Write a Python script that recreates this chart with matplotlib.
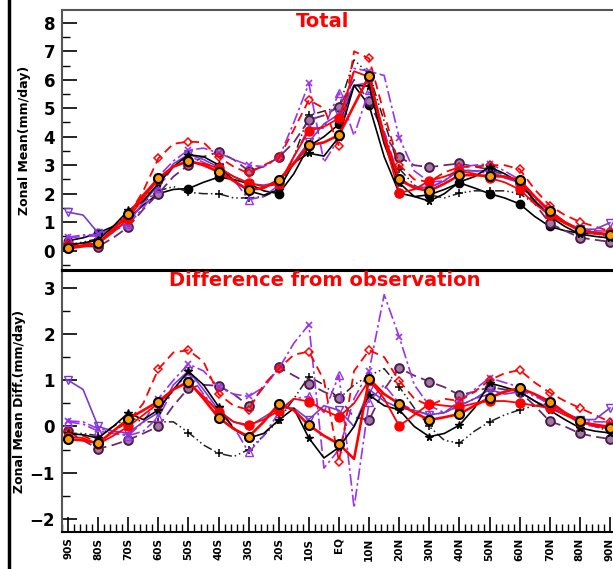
import matplotlib.pyplot as plt
import numpy as np
from matplotlib.ticker import MultipleLocator

# latitude grid (5 deg), markers drawn every 10 deg
lat = np.arange(-90, 91, 5)
tick_lat = np.arange(-90, 91, 10)
tick_lab = ['90S', '80S', '70S', '60S', '50S', '40S', '30S', '20S', '10S', 'EQ',
            '10N', '20N', '30N', '40N', '50N', '60N', '70N', '80N', '90N']

# observation (top panel only)
obs = [0.35, 0.45, 0.62, 0.85, 1.12, 1.6, 2.0, 2.15, 2.18, 2.4, 2.58, 2.5, 2.35, 2.1, 2.0, 2.7, 3.67, 4.0, 4.44,
       5.8, 5.1, 3.3, 2.02, 1.9, 1.96, 2.15, 2.38, 2.2, 2.0, 1.85, 1.64, 1.2, 0.85, 0.7, 0.61, 0.6, 0.58]

# model minus observation
d_orange = [-0.27, -0.3, -0.36, -0.1, 0.16, 0.35, 0.54, 0.8, 0.97, 0.6, 0.19, -0.05, -0.22, 0.1, 0.49, 0.35, 0.03,
            -0.2, -0.38, -0.7, 1.03, 0.7, 0.49, 0.3, 0.14, 0.2, 0.27, 0.45, 0.62, 0.75, 0.83, 0.7, 0.54, 0.3, 0.11,
            0.02, -0.03]
d_reddot = [-0.22, -0.25, -0.38, -0.2, 0.0, 0.25, 0.5, 0.8, 0.95, 0.65, 0.32, 0.1, 0.03, 0.15, 0.34, 0.6, 0.54,
            0.35, 0.21, 0.5, 1.0, 0.6, 0.01, 0.25, 0.49, 0.45, 0.42, 0.5, 0.55, 0.55, 0.51, 0.45, 0.4, 0.25, 0.1,
            0.05, 0.0]
d_star = [-0.15, -0.18, -0.25, 0.0, 0.29, 0.15, 0.36, 0.8, 1.19, 0.9, 0.43, -0.05, -0.25, -0.15, 0.14, 0.39, -0.25,
          -0.68, -0.45, 0.0, 0.68, 0.45, 0.36, 0.0, -0.22, -0.15, 0.03, 0.4, 0.94, 0.85, 0.75, 0.55, 0.35, 0.15,
          -0.03, -0.1, -0.14]
d_plus = [-0.15, -0.15, -0.2, 0.0, 0.2, 0.1, 0.1, 0.1, -0.13, -0.4, -0.58, -0.65, -0.5, -0.2, 0.14, 0.6, 1.08, 0.9,
          0.6, 0.9, 1.1, 1.25, 0.86, 0.4, 0.0, -0.3, -0.36, -0.1, 0.1, 0.25, 0.36, 0.45, 0.5, 0.3, 0.1, 0.0, -0.1]
d_vtri = [1.0, 0.8, 0.0, -0.1, -0.14, 0.1, 0.3, 0.9, 1.2, 0.8, 0.35, 0.1, 0.0, 0.2, 0.4, 0.4, 0.15, 0.45, 0.35, 0.0,
          0.8, 0.55, 0.4, 0.35, 0.25, 0.3, 0.45, 0.6, 0.8, 0.7, 0.75, 0.55, 0.4, 0.3, 0.15, 0.15, 0.4]
d_cross = [0.12, 0.1, -0.05, -0.1, -0.2, 0.1, 0.6, 1.0, 1.35, 1.2, 0.85, 0.7, 0.65, 0.85, 1.25, 1.8, 2.2, -0.9,
           -0.5, 0.6, 1.2, 2.85, 1.94, 0.9, 0.45, 0.3, 0.55, 0.8, 1.05, 0.95, 0.85, 0.7, 0.45, 0.3, 0.05, 0.0, -0.05]
d_utri = [0.1, 0.05, -0.1, -0.15, -0.2, -0.1, 0.2, 0.8, 1.15, 0.7, 0.3, 0.0, -0.56, -0.2, 0.3, 0.6, 0.65, 0.3, 1.11,
          -1.76, 0.54, 0.9, 0.5, 0.35, 0.25, 0.3, 0.45, 0.6, 0.7, 0.75, 0.8, 0.65, 0.5, 0.3, 0.15, 0.1, 0.1]
d_diam = [-0.12, -0.2, -0.35, -0.1, 0.1, 0.5, 1.24, 1.6, 1.65, 1.4, 0.7, 0.45, 0.36, 0.9, 1.25, 1.55, 1.62, 1.0,
          -0.76, 1.2, 1.65, 1.5, 0.99, 0.6, 0.45, 0.6, 0.55, 0.75, 1.0, 1.15, 1.22, 0.95, 0.73, 0.55, 0.4, 0.25, 0.1]
d_hatch = [-0.1, -0.3, -0.48, -0.4, -0.29, -0.15, 0.0, 0.45, 0.83, 0.9, 0.88, 0.7, 0.45, 0.85, 1.28, 1.1, 0.92,
           0.75, 0.61, 0.2, 0.14, 0.8, 1.26, 1.1, 0.97, 0.85, 0.68, 0.75, 0.85, 0.8, 0.75, 0.45, 0.11, 0.0, -0.15,
           -0.22, -0.27]

purple = '#9a32f0'
dash_dot_dot = (0, (6, 2, 1, 2, 1, 2))
# (diff, line style, marker style)
models = [
    (d_plus, dict(color='#222222', ls=dash_dot_dot, lw=1.1), dict(marker='+', color='black', ms=6, mew=1.1)),
    (d_hatch, dict(color='#6a2a6a', ls=(0, (6, 3)), lw=1.3),
     dict(marker='o', mfc='#a07aa0', mec='#4a184a', ms=6.3, mew=1.4)),
    (d_utri, dict(color=purple, ls=(0, (7, 2, 1.5, 2)), lw=1.2), dict(marker='^', mfc='none', mec=purple, ms=5.5)),
    (d_cross, dict(color=purple, ls=(0, (7, 2, 1.5, 2)), lw=1.2), dict(marker='x', color=purple, ms=5, mew=1.2)),
    (d_diam, dict(color='red', ls=(0, (5, 3)), lw=1.3), dict(marker='D', mfc='none', mec='red', ms=4.5, mew=1.1)),
    (d_vtri, dict(color='#7a3ad0', ls='-', lw=1.2), dict(marker='v', mfc='none', mec='#7a3ad0', ms=5.5)),
    (d_star, dict(color='black', ls='-', lw=1.2), dict(marker='*', color='black', ms=5.5)),
    (d_reddot, dict(color='red', ls='-', lw=1.3), dict(marker='o', color='red', ms=6.5, mec='red')),
    (d_orange, dict(color='red', ls='-', lw=1.9),
     dict(marker='o', mfc='#ff9a00', mec='black', ms=6.5, mew=1.5)),
]

fig = plt.figure(figsize=(6.13, 5.69), dpi=100)
ax1 = fig.add_axes([62 / 613, 1 - 270 / 569, 554 / 613, 260 / 569])
ax2 = fig.add_axes([62 / 613, 1 - 532 / 569, 554 / 613, 261 / 569])

obs_a = np.array(obs)
ax1.plot(lat, obs_a, color='black', lw=1.2)
ax1.plot(lat[::2], obs_a[::2], ls='none', marker='o', color='black', ms=6)

for d, lst, mst in models:
    d = np.array(d)
    tot = obs_a + d
    ax1.plot(lat, tot, **lst)
    ax1.plot(lat[::2], tot[::2], ls='none', **mst)
    ax2.plot(lat, d, **lst)
    ax2.plot(lat[::2], d[::2], ls='none', **mst)

for ax in (ax1, ax2):
    ax.set_xlim(-92, 92)
    ax.yaxis.set_minor_locator(MultipleLocator(0.5))
    ax.tick_params(axis='y', which='major', direction='in', length=11, width=1.2, labelsize=12, pad=5)
    ax.tick_params(axis='y', which='minor', direction='in', length=6, width=1.0)
    ax.tick_params(right=False, which='both')
    for s in ax.spines.values():
        s.set_linewidth(1.5)

ax1.set_ylim(-0.68, 8.45)
ax1.set_yticks(range(0, 9))
ax1.set_xticks([])
ax1.spines['top'].set_color('#555555')
ax1.spines['left'].set_color('#555555')
ax1.set_ylabel('Zonal Mean(mm/day)', fontsize=9, fontweight='bold')
ax1.yaxis.set_label_coords(-0.056, 0.5)
ax1.text(0.471, 0.955, 'Total', transform=ax1.transAxes, color='red', fontsize=14,
         fontweight='bold', ha='center', va='center')
for lab in ax1.get_yticklabels():
    lab.set_fontweight('bold')

ax2.set_ylim(-2.28, 3.36)
ax2.set_yticks(range(-2, 4))
ax2.set_xticks(tick_lat)
ax2.set_xticklabels(tick_lab, rotation=90, fontsize=7.5, fontweight='bold')
ax2.xaxis.set_minor_locator(MultipleLocator(2))
ax2.tick_params(axis='x', which='major', direction='in', length=11, width=1.2, pad=4)
ax2.tick_params(axis='x', which='minor', direction='in', length=6, width=1.0)
ax2.spines['left'].set_color('#555555')
ax2.set_ylabel('Zonal Mean Diff.(mm/day)', fontsize=9, fontweight='bold')
ax2.yaxis.set_label_coords(-0.065, 0.5)
ax2.text(0.475, 0.965, 'Difference from observation', transform=ax2.transAxes, color='red',
         fontsize=14, fontweight='bold', ha='center', va='center')
for lab in ax2.get_yticklabels():
    lab.set_fontweight('bold')

fig.add_artist(plt.Line2D([9 / 613, 9 / 613], [0, 1], color='black', lw=2.5, transform=fig.transFigure))

fig.savefig('out.png', dpi=100)
